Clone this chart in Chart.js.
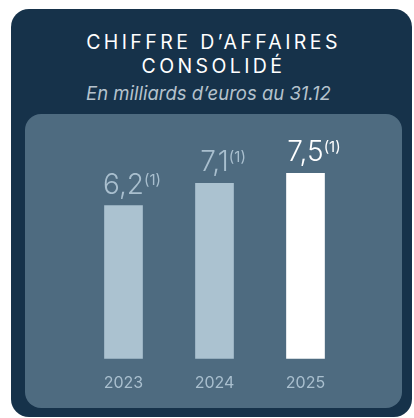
<!DOCTYPE html>
<html lang="fr">
<head>
<meta charset="utf-8">
<script src="https://cdn.jsdelivr.net/npm/chart.js@4.4.1/dist/chart.umd.min.js"></script>
<style>
  html, body { margin: 0; padding: 0; background: #ffffff; }
  body { width: 414px; height: 418px; position: relative; overflow: hidden; font-family: Inter, "Noto Sans", sans-serif; }
  .card {
    position: absolute; left: 11px; top: 9px; width: 401px; height: 408px;
    background: #16324a; border-radius: 18px;
  }
  .title {
    position: absolute; left: 13px; width: 401px; top: 30px;
    text-align: center; color: #ffffff; font-size: 19.5px; line-height: 24px;
    letter-spacing: 3.4px; font-weight: 400;
  }
  .subtitle {
    position: absolute; left: 8px; width: 401px; top: 82px; line-height: 22px;
    text-align: center; color: #b5c2cd; font-size: 18.5px; font-style: italic;
  }
  .panel {
    position: absolute; left: 25px; top: 114px; width: 377px; height: 294px;
    background: #4e6b80; border-radius: 16px;
  }
</style>
</head>
<body>
<div class="card"></div>
<div class="title">CHIFFRE D’AFFAIRES<br>CONSOLIDÉ</div>
<div class="subtitle">En milliards d’euros au 31.12</div>
<div class="panel"><canvas id="ca-chart"></canvas></div>

<script>
// Donnees du graphique
var years = ['2023', '2024', '2025'];
var revenue = [6.2, 7.1, 7.5];
var valueLabels = ['6,2', '7,1', '7,5'];
var noteMark = '(1)';

var barColors = ['#abc2d0', '#abc2d0', '#ffffff'];
var labelColors = ['#a9bfce', '#a9bfce', '#ffffff'];

// Valeurs au-dessus des barres, avec renvoi en exposant
var valueLabelPlugin = {
  id: 'valueLabels',
  afterDatasetsDraw: function (chart) {
    var ctx = chart.ctx;
    var meta = chart.getDatasetMeta(0);
    ctx.save();
    meta.data.forEach(function (bar, i) {
      var big = (i === 2 ? '350 ' : '300 ') + '28px Inter, sans-serif';
      var small = '400 15px Inter, sans-serif';
      var y = bar.y - 12;
      ctx.fillStyle = labelColors[i];
      ctx.font = big;
      ctx.textBaseline = 'alphabetic';
      ctx.textAlign = 'center';
      ctx.fillText(valueLabels[i], bar.x, y);
      var w = ctx.measureText(valueLabels[i]).width;
      ctx.font = small;
      ctx.textAlign = 'left';
      ctx.fillText(noteMark, bar.x + w / 2, y - 9);
    });
    ctx.restore();
  }
};

new Chart(document.getElementById('ca-chart'), {
  type: 'bar',
  data: {
    labels: years,
    datasets: [{
      data: revenue,
      backgroundColor: barColors,
      borderWidth: 0,
      barThickness: 38
    }]
  },
  options: {
    responsive: true,
    maintainAspectRatio: false,
    animation: false,
    layout: { padding: { left: 53, right: 51, top: 47, bottom: 8 } },
    plugins: { legend: { display: false }, tooltip: { enabled: false } },
    scales: {
      x: {
        grid: { display: false },
        border: { display: false },
        ticks: { color: '#a9bfce', font: { family: 'Inter', size: 16 }, padding: 7 }
      },
      y: { display: false, min: 0, max: 8 }
    }
  },
  plugins: [valueLabelPlugin]
});
</script>
</body>
</html>
